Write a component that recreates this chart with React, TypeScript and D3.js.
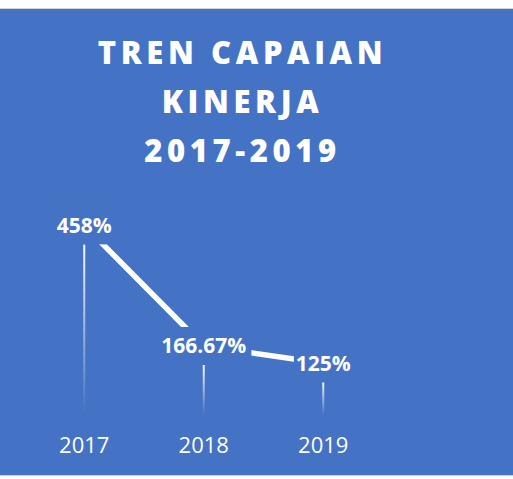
import React from "react";
import * as d3 from "d3";

// chart data
const years = ["2017", "2018", "2019"];
const capaian = [458, 166.67, 125];
const labels = ["458%", "166.67%", "125%"];
const titleLines = ["TREN CAPAIAN", "KINERJA", "2017-2019"];

const width = 513;
const height = 479;
const blue = "#4472C4";
const font = "'Open Sans', 'DejaVu Sans', sans-serif";

const App = () => {
  // x: point scale over the categories, y: linear from zero
  const x = d3.scalePoint<string>().domain(years).range([24.5, 383]).padding(0.5);
  const y = d3.scaleLinear().domain([0, 500]).range([415, 208]);

  const pts = years.map((yr, i) => ({ yr, v: capaian[i], label: labels[i] }));

  const line = d3
    .line<{ yr: string; v: number }>()
    .x((d) => x(d.yr) as number)
    .y((d) => y(d.v));

  // label boxes sit centered on the point (covers line + drop line)
  const charW = 21 * 0.58;
  const boxW = (s: string) => s.length * charW + 10;
  const boxH = 38;

  return (
    <>
      <style>{"body{margin:0}"}</style>
      <svg width={width} height={height} style={{ display: "block" }}>
        <defs>
          <linearGradient id="drop" x1="0" y1="0" x2="0" y2="1">
            <stop offset="0" stopColor="#fff" stopOpacity={0.95} />
            <stop offset="1" stopColor="#fff" stopOpacity={0} />
          </linearGradient>
        </defs>
        <rect x={0} y={0} width={width} height={height} fill="#fff" />
        <rect x={-1} y={8.5} width={width + 2} height={467} fill={blue} stroke="#d4d4d4" strokeWidth={1} />

        {/* title */}
        <g fill="#fff" fontFamily={font} fontWeight={800} fontSize={31} letterSpacing={4.6} textAnchor="middle">
          {titleLines.map((t, i) => (
            <text key={t} x={242.5} y={64 + i * 49}>
              {t}
            </text>
          ))}
        </g>

        {/* drop lines */}
        {pts.map((d) => {
          const top = y(d.v) + boxH / 2;
          return (
            <rect
              key={"drop" + d.yr}
              x={(x(d.yr) as number) - 1}
              y={top}
              width={2}
              height={y(0) - top}
              fill="url(#drop)"
            />
          );
        })}

        {/* trend line */}
        <path d={line(pts) as string} fill="none" stroke="#fff" strokeWidth={5.5} />

        {/* data labels */}
        {pts.map((d) => {
          const cx = x(d.yr) as number;
          const cy = y(d.v);
          const w = boxW(d.label);
          return (
            <g key={"lab" + d.yr}>
              <rect x={cx - w / 2} y={cy - boxH / 2} width={w} height={boxH} fill={blue} />
              <text
                x={cx}
                y={cy + 7.5}
                textAnchor="middle"
                fill="#fff"
                fontFamily={font}
                fontWeight={700}
                fontSize={21}
              >
                {d.label}
              </text>
            </g>
          );
        })}

        {/* category axis labels */}
        <g fill="#fff" fontFamily={font} fontSize={22} textAnchor="middle">
          {years.map((yr) => (
            <text key={yr} x={x(yr) as number} y={453}>
              {yr}
            </text>
          ))}
        </g>
      </svg>
    </>
  );
};

export default App;
